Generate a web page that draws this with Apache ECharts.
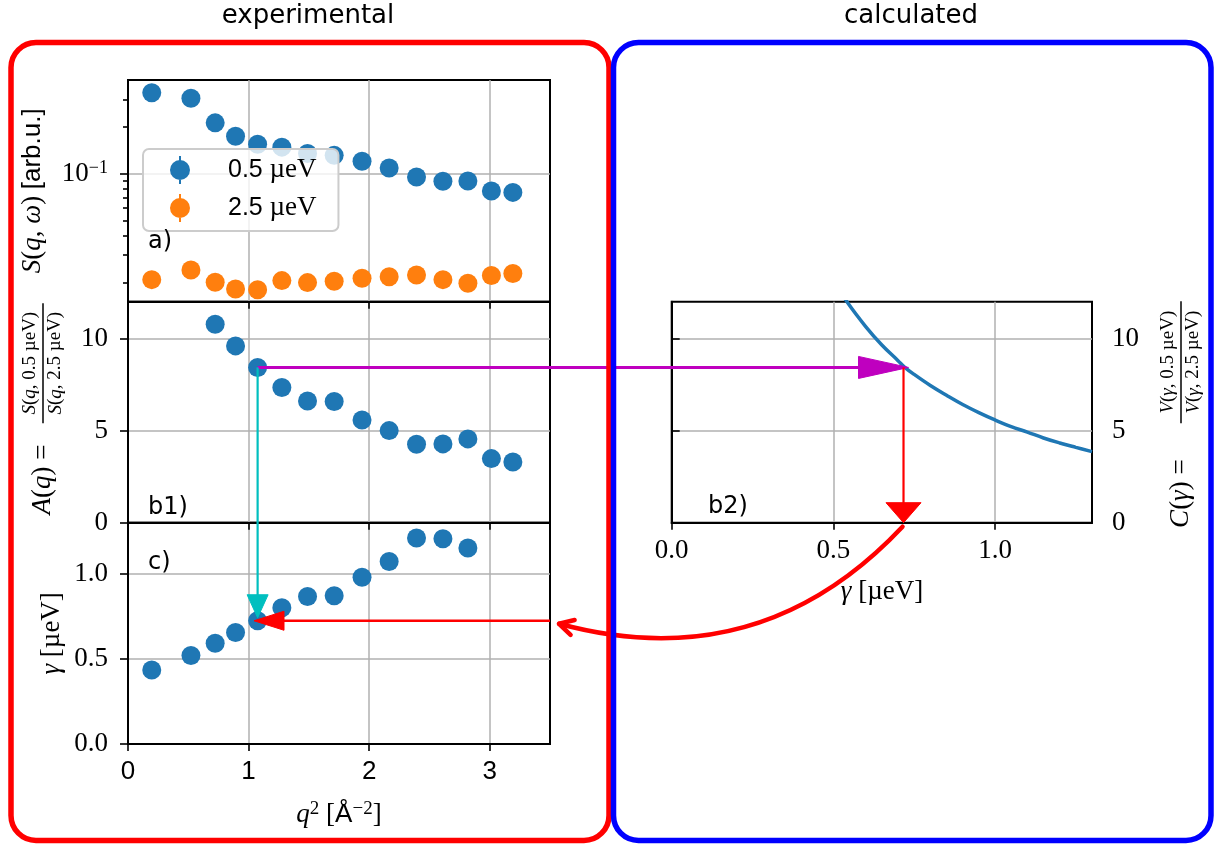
<!DOCTYPE html>
<html><head><meta charset="utf-8">
<script src="https://cdn.jsdelivr.net/npm/echarts@6/dist/echarts.min.js"></script>
<style>html,body{margin:0;padding:0;background:#fff}#c{width:1220px;height:847px}</style>
</head><body><div id="c"></div>
<script>
// ---------------- data ----------------
const q2 = [0.197, 0.522, 0.723, 0.892, 1.075, 1.276, 1.489, 1.710, 1.941, 2.166, 2.393, 2.612, 2.819, 3.014, 3.192];
const S05 = [0.331, 0.305, 0.212, 0.174, 0.1545, 0.148, 0.1346, 0.131, 0.120, 0.1086, 0.0951, 0.0892, 0.0896, 0.0773, 0.0757];
const S25 = [0.0208, 0.0240, 0.0200, 0.0181, 0.0179, 0.0205, 0.0199, 0.0203, 0.0212, 0.0217, 0.0223, 0.0208, 0.0197, 0.0221, 0.0228];
const Aq = [15.9, 12.3, 10.78, 9.60, 8.43, 7.34, 6.61, 6.58, 5.58, 5.00, 4.26, 4.28, 4.55, 3.48, 3.30];
const gammaQ = [0.435, 0.520, 0.592, 0.655, 0.724, 0.800, 0.866, 0.871, 0.980, 1.072, 1.210, 1.206, 1.151];
const gammaCurve = [0.50, 0.54, 0.60, 0.65, 0.70, 0.72, 0.75, 0.80, 0.85, 0.90, 0.95, 1.00, 1.05, 1.10, 1.15, 1.20, 1.25, 1.30];
const Ccurve = [13.2, 12.05, 10.65, 9.65, 8.80, 8.45, 8.05, 7.45, 6.92, 6.42, 5.98, 5.58, 5.22, 4.92, 4.60, 4.33, 4.09, 3.86];
const crossGamma = 0.717;
const selIndex = 4;
const seriesNames = ['0.5 µeV', '2.5 µeV'];
const xTicksQ = [0, 1, 2, 3];
const yTicksA = [0.1];
const yMinorA = [0.02, 0.03, 0.04, 0.05, 0.06, 0.07, 0.08, 0.09, 0.2, 0.3];
const yTicksB = [0, 5, 10];
const yTicksC = [0, 0.5, 1.0];
const xTicksG = [0, 0.5, 1.0];

// ---------------- styles ----------------
const BLUE = '#1f77b4', ORANGE = '#ff7f0e', GRIDC = '#b0b0b0';
const SERIF = "'Liberation Serif', 'DejaVu Serif', serif";
const SANS = "'DejaVu Sans', 'Open Sans', sans-serif";
const LSANS = "'Liberation Sans', 'DejaVu Sans', sans-serif";
const TICKFS = 26;
const G = {
  a:  {left: 128,   top: 80,    width: 422,   height: 221.7},
  b1: {left: 128,   top: 301.7, width: 422,   height: 221},
  c:  {left: 128,   top: 522.7, width: 422,   height: 221.3},
  b2: {left: 671.7, top: 301.7, width: 420.3, height: 221}
};
function mathRich(size) {
  return {
    i: {fontFamily: SERIF, fontStyle: 'italic', fontSize: size, lineHeight: size + 4, color: '#000'},
    r: {fontFamily: SERIF, fontSize: size, lineHeight: size + 4, color: '#000'},
    s: {fontFamily: LSANS, fontSize: size - 1, lineHeight: size + 4, color: '#000'},
    sup: {fontFamily: SERIF, fontSize: Math.round(size * 0.7), lineHeight: Math.round(size * 0.72), verticalAlign: 'top', color: '#000'}
  };
}
const tickStyle = {lineStyle: {color: '#000', width: 1.6}};
const axisLineStyle = {show: true, lineStyle: {color: '#000', width: 2}};
const splitStyle = {show: true, lineStyle: {color: GRIDC, width: 1.5}};

function grid(g) {
  return Object.assign({show: true, borderColor: '#000', borderWidth: 2, backgroundColor: 'transparent', containLabel: false}, g);
}
function qAxis(gi, withLabels) {
  return {
    gridIndex: gi, type: 'value', min: 0, max: 3.5, interval: 1,
    axisLine: axisLineStyle,
    axisTick: Object.assign({show: true, length: 7, customValues: xTicksQ}, tickStyle),
    axisLabel: withLabels ? {show: true, customValues: xTicksQ, margin: 15, fontFamily: LSANS, fontSize: TICKFS, color: '#000'} : {show: false},
    splitLine: splitStyle
  };
}

const chart = echarts.init(document.getElementById('c'), null, {renderer: 'canvas'});
const icon = 'path://M9,0L11,0L11,28L9,28Z M10,4A10,10,0,1,1,9.99,4Z';

const option = {
  animation: false,
  backgroundColor: '#fff',
  grid: [grid(G.a), grid(G.b1), grid(G.c), grid(G.b2)],
  legend: {
    data: [{name: seriesNames[0], icon: icon}, {name: seriesNames[1], icon: icon}],
    selectedMode: false,
    orient: 'vertical', left: 143, top: 149,
    itemWidth: 20, itemHeight: 28, itemGap: 10,
    padding: [7, 22, 9, 27],
    backgroundColor: 'rgba(255,255,255,0.8)', borderColor: '#cccccc', borderWidth: 2, borderRadius: 6,
    formatter: function (name) {
      const p = name.split(' ');
      return '{g|}{n|' + p[0] + '} {u|' + p[1] + '}';
    },
    textStyle: {
      color: '#000', fontSize: 24,
      rich: {
        g: {width: 33},
        n: {fontFamily: LSANS, fontSize: 25, color: '#000'},
        u: {fontFamily: SERIF, fontSize: 27, color: '#000'}
      }
    }
  },
  xAxis: [
    qAxis(0, false), qAxis(1, false), qAxis(2, true),
    {
      gridIndex: 3, type: 'value', min: 0, max: 1.3, interval: 0.5,
      axisLine: axisLineStyle,
      axisTick: Object.assign({show: true, length: 7, customValues: xTicksG}, tickStyle),
      axisLabel: {show: true, customValues: xTicksG, margin: 15, fontFamily: SERIF, fontSize: TICKFS + 1, color: '#000',
        formatter: v => v.toFixed(1)},
      splitLine: splitStyle
    }
  ],
  yAxis: [
    {
      gridIndex: 0, type: 'log', logBase: 10, min: 0.015, max: 0.4,
      axisLine: axisLineStyle,
      axisTick: Object.assign({show: true, length: 8, customValues: yTicksA}, tickStyle),
      axisLabel: {show: true, customValues: yTicksA, margin: 20, color: '#000',
        formatter: v => '{b|10}{sup|−1}',
        rich: {b: {fontFamily: SERIF, fontSize: TICKFS + 1, lineHeight: 28, color: '#000'},
               sup: {fontFamily: SERIF, fontSize: 18, lineHeight: 18, verticalAlign: 'top', color: '#000'}}},
      splitLine: splitStyle
    },
    {
      gridIndex: 1, type: 'value', min: 0, max: 12, interval: 5,
      axisLine: axisLineStyle,
      axisTick: Object.assign({show: true, length: 8, customValues: yTicksB}, tickStyle),
      axisLabel: {show: true, customValues: yTicksB, margin: 20, fontFamily: SERIF, fontSize: TICKFS + 1, color: '#000'},
      splitLine: splitStyle
    },
    {
      gridIndex: 2, type: 'value', min: 0, max: 1.3, interval: 0.5,
      axisLine: axisLineStyle,
      axisTick: Object.assign({show: true, length: 8, customValues: yTicksC}, tickStyle),
      axisLabel: {show: true, customValues: yTicksC, margin: 20, fontFamily: SERIF, fontSize: TICKFS + 1, color: '#000',
        formatter: v => v.toFixed(1)},
      splitLine: splitStyle
    },
    {
      gridIndex: 3, type: 'value', position: 'right', min: 0, max: 12, interval: 5,
      axisLine: axisLineStyle,
      axisTick: Object.assign({show: true, length: 8, customValues: yTicksB}, tickStyle),
      axisLabel: {show: true, customValues: yTicksB, margin: 20, fontFamily: SERIF, fontSize: TICKFS + 1, color: '#000'},
      splitLine: splitStyle
    },
    {
      gridIndex: 0, type: 'log', logBase: 10, min: 0.015, max: 0.4, position: 'left', offset: 0,
      axisLine: {show: false},
      axisTick: Object.assign({show: true, length: 5, customValues: yMinorA}, tickStyle),
      axisLabel: {show: false},
      splitLine: {show: false}
    }
  ],
  series: [
    {type: 'scatter', name: seriesNames[0], xAxisIndex: 0, yAxisIndex: 0, symbolSize: 19, z: 3,
     itemStyle: {color: BLUE, opacity: 1}, data: q2.map((x, i) => [x, S05[i]])},
    {type: 'scatter', name: seriesNames[1], xAxisIndex: 0, yAxisIndex: 0, symbolSize: 19, z: 3,
     itemStyle: {color: ORANGE, opacity: 1}, data: q2.map((x, i) => [x, S25[i]])},
    {type: 'scatter', name: 'A', xAxisIndex: 1, yAxisIndex: 1, symbolSize: 19, z: 3, clip: true,
     itemStyle: {color: BLUE, opacity: 1}, data: q2.map((x, i) => [x, Aq[i]])},
    {type: 'scatter', name: 'gamma', xAxisIndex: 2, yAxisIndex: 2, symbolSize: 19, z: 3,
     itemStyle: {color: BLUE, opacity: 1}, data: gammaQ.map((g, i) => [q2[i], g])},
    {type: 'line', name: 'C', xAxisIndex: 3, yAxisIndex: 3, showSymbol: false, smooth: 0.4, clip: true, z: 3,
     lineStyle: {color: BLUE, width: 3.5}, data: gammaCurve.map((g, i) => [g, Ccurve[i]])}
  ]
};
chart.setOption(option);

// ---------------- annotations ----------------
const px = (gi, pt) => chart.convertToPixel({xAxisIndex: gi, yAxisIndex: gi}, pt);

function text(x, y, str, rich, o) {
  o = o || {};
  return {
    type: 'text', x: x, y: y, z: o.z || 50, rotation: o.rotation || 0,
    style: Object.assign({
      text: str, rich: rich, fill: '#000',
      fontFamily: o.fontFamily || SERIF, fontSize: o.fontSize || 26,
      align: o.align || 'center', verticalAlign: o.va || 'middle',
      textAlign: o.align || 'center', textVerticalAlign: o.va || 'middle'
    }, o.style || {})
  };
}
function head(tip, dir, len, halfW, color) {
  const n = Math.hypot(dir[0], dir[1]);
  const ux = dir[0] / n, uy = dir[1] / n;
  const bx = tip[0] - ux * len, by = tip[1] - uy * len;
  return {type: 'polygon', z: 100, shape: {points: [[tip[0], tip[1]], [bx - uy * halfW, by + ux * halfW], [bx + uy * halfW, by - ux * halfW]]},
          style: {fill: color, stroke: color, lineWidth: 1}};
}
function seg(p, q, color, w) {
  return {type: 'line', z: 100, shape: {x1: p[0], y1: p[1], x2: q[0], y2: q[1]}, style: {stroke: color, lineWidth: w}};
}

const MAG = '#bf00bf', CYAN = '#00bfbf', RED = '#ff0000';
const P1 = px(1, [q2[selIndex], Aq[selIndex]]);
const P2 = px(3, [crossGamma, Aq[selIndex]]);
const P0 = px(3, [crossGamma, 0]);
const Pc = px(2, [q2[selIndex], gammaQ[selIndex]]);
const Pr = px(2, [3.5, gammaQ[selIndex]]);
const Pend = px(2, [3.575, gammaQ[selIndex]]);

const els = [];
// magenta
const magTip = [P2[0] + 5, P2[1]];
els.push(seg(P1, [magTip[0] - 40, P2[1]], MAG, 3));
els.push(head(magTip, [1, 0], 50, 11, MAG));
// cyan
const cyTip = [P1[0], Pc[1] - 3];
els.push(seg(P1, [P1[0], cyTip[1] - 18], CYAN, 2.2));
els.push(head(cyTip, [0, 1], 23, 10.5, CYAN));
// red vertical in b2
els.push(seg(P2, [P0[0], P0[1] - 16], RED, 2.2));
els.push(head(P0, [0, 1], 20, 17.5, RED));
// red horizontal in c
const rTip = [Pc[0] - 3.6, Pc[1]];
els.push(seg(Pr, [rTip[0] + 25, rTip[1]], RED, 2.5));
els.push(head(rTip, [-1, 0], 30, 9.5, RED));
// curved red arrow
const cs = [P0[0] - 1, P0[1] + 4];
const ce = [Pend[0], Pend[1] + 3];
const dx = ce[0] - cs[0], dy = ce[1] - cs[1];
const ctrl = [(cs[0] + ce[0]) / 2 + 0.3 * dy, (cs[1] + ce[1]) / 2 - 0.3 * dx];
els.push({type: 'bezierCurve', z: 100, shape: {x1: cs[0], y1: cs[1], x2: ce[0], y2: ce[1], cpx1: ctrl[0], cpy1: ctrl[1]},
          style: {stroke: RED, lineWidth: 4.5, fill: null, lineCap: 'round'}});
(function () {
  let ux = ce[0] - ctrl[0], uy = ce[1] - ctrl[1];
  const n = Math.hypot(ux, uy); ux /= n; uy /= n;
  const L = 16, th = 0.5;
  const r = (a) => [ux * Math.cos(a) - uy * Math.sin(a), ux * Math.sin(a) + uy * Math.cos(a)];
  const a1 = r(th), a2 = r(-th);
  els.push({type: 'polyline', z: 100, shape: {points: [[ce[0] - L * a1[0], ce[1] - L * a1[1]], ce, [ce[0] - L * a2[0], ce[1] - L * a2[1]]]},
            style: {stroke: RED, lineWidth: 4.5, fill: null, lineCap: 'round', lineJoin: 'round'}});
})();

// boxes
els.push({type: 'rect', z: 110, shape: {x: 11, y: 42.5, width: 598, height: 798, r: 25}, style: {fill: null, stroke: RED, lineWidth: 5.5}});
els.push({type: 'rect', z: 110, shape: {x: 613.5, y: 42.5, width: 597.5, height: 798, r: 25}, style: {fill: null, stroke: '#0000ff', lineWidth: 5.5}});

// titles
els.push(text(308, 16, 'experimental', null, {fontFamily: SANS, fontSize: 26}));
els.push(text(911, 16, 'calculated', null, {fontFamily: SANS, fontSize: 26}));

// panel labels
els.push(text(148, 242, 'a)', null, {fontFamily: SANS, fontSize: 24, align: 'left'}));
els.push(text(148, 508, 'b1)', null, {fontFamily: SANS, fontSize: 24, align: 'left'}));
els.push(text(148, 563, 'c)', null, {fontFamily: SANS, fontSize: 24, align: 'left'}));
els.push(text(708, 507, 'b2)', null, {fontFamily: SANS, fontSize: 24, align: 'left'}));

// axis titles
const R = mathRich(27);
els.push(text(33, G.a.top + G.a.height / 2, '{i|S}{r|(}{i|q}{r|, }{i|ω}{r|)} {s|[arb.u.]}', R, {rotation: Math.PI / 2}));
els.push(text(52, G.c.top + G.c.height / 2, '{i|γ}{r| [µeV]}', R, {rotation: Math.PI / 2}));
els.push(text(339, 815, '{i|q}{sup|2}{r| [}{s|Å}{sup|−2}{r|]}', R, {}));
els.push(text(882, 592, '{i|γ}{r| [µeV]}', R, {}));

function fracTitle(cx, cy, lhs, num, den, fracLeft, fracRight, lhsCenter) {
  const Rf = mathRich(19);
  const mid = (fracLeft + fracRight) / 2;
  return {
    type: 'group', x: cx, y: cy, rotation: Math.PI / 2, z: 50,
    children: [
      text(lhsCenter, 0, lhs, mathRich(27), {}),
      {type: 'line', shape: {x1: fracLeft, y1: 0, x2: fracRight, y2: 0}, style: {stroke: '#000', lineWidth: 1.5}},
      text(mid, -13, num, Rf, {}),
      text(mid, 12.5, den, Rf, {})
    ]
  };
}
els.push(fracTitle(43, G.b1.top + G.b1.height / 2,
  '{i|A}{r|(}{i|q}{r|) = }',
  '{i|S}{r|(}{i|q}{r|, 0.5 µeV)}', '{i|S}{r|(}{i|q}{r|, 2.5 µeV)}', -11, 109, -64));
els.push(fracTitle(1181, G.b2.top + G.b2.height / 2,
  '{i|C}{r|(}{i|γ}{r|) = }',
  '{i|V}{r|(}{i|γ}{r|, 0.5 µeV)}', '{i|V}{r|(}{i|γ}{r|, 2.5 µeV)}', -11, 111, -78));

chart.setOption({graphic: {elements: els}});
</script>
</body></html>
